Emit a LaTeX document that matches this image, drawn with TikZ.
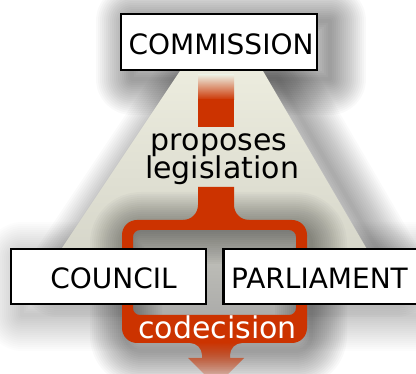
\documentclass[tikz,border=0pt]{standalone}
\usepackage{fontspec}
\setmainfont{DejaVu Sans}
\usetikzlibrary{fadings}
\definecolor{eured}{RGB}{204,51,0}
\definecolor{beige}{RGB}{236,236,222}
\definecolor{beigedark}{RGB}{212,212,200}
\definecolor{holetop}{RGB}{198,198,190}
\definecolor{holebot}{RGB}{172,172,170}
\tikzfading[name=arrowfade, top color=transparent!0, bottom color=transparent!100]
\newcommand{\softshadow}[4]{% xshift, yshift, opacity, path
  \foreach \w in {4,8,...,72} {\draw[black, opacity=#3, line width=\w pt, line join=round, xshift=#1, yshift=#2] #4;}}
\begin{document}
\begin{tikzpicture}[x=1pt,y=-1pt,
  box/.style={draw=black, line width=2.5pt, fill=white, inner sep=0pt},
  lbl/.style={anchor=base, inner sep=0pt, font=\fontsize{28}{28}\selectfont},
  biglbl/.style={anchor=base, inner sep=0pt, font=\fontsize{30}{30}\selectfont}]
\clip (0,0) rectangle (416,374);
\fill[white] (0,0) rectangle (416,374);
% shadows
\softshadow{12pt}{-10pt}{0.011}{(10,248) rectangle (207,305)}
\softshadow{12pt}{-10pt}{0.011}{(221,248) rectangle (460,305)}
\softshadow{14pt}{-6pt}{0.02}{(180,71) -- (263,71) -- (382,275) -- (44,275) -- cycle}
\softshadow{12pt}{-8pt}{0.022}{(120,13) rectangle (318,71)}
% trapezoid
\shade[top color=beige, bottom color=beigedark] (180,71) -- (263,71) -- (382,275) -- (44,275) -- cycle;
% hole of the loop
\shade[top color=holetop, bottom color=holebot, rounded corners=7pt] (133,230) rectangle (296,315);
% shadow of the loop
\softshadow{4pt}{-8pt}{0.025}{[rounded corners=15pt] (122,220) rectangle (307,343)}
% red top bar
\shade[top color=beige, bottom color=eured] (198,75) rectangle (234,100);
\fill[eured] (198,99.5) rectangle (234,127);
% stem with fillets
\fill[eured] (198,187) -- (198,205) .. controls (198,213.3) and (191.3,220) .. (183,220)
  -- (183,224) -- (249,224) -- (249,220) .. controls (240.7,220) and (234,213.3) .. (234,205)
  -- (234,187) -- cycle;
% loop
\fill[eured, even odd rule] [rounded corners=15pt] (122,220) rectangle (307,343)
  [rounded corners=7pt] (133,230) rectangle (296,315);
% arrow
\fill[eured, path fading=arrowfade] (190,342) -- (190,343) .. controls (196.6,343) and (202,348.4) .. (202,355)
  -- (202,358) -- (188,358) -- (216,386) -- (244,358) -- (230,358) -- (230,355)
  .. controls (230,348.4) and (235.4,343) .. (242,343) -- (242,342) -- cycle;
% boxes
\node[box, minimum width=196pt, minimum height=56pt] (commission) at (219,42) {};
\node[box, minimum width=195pt, minimum height=55pt] (council) at (108.5,276.5) {};
\node[box, minimum width=210pt, minimum height=55pt, anchor=west] (parliament) at (222.25,276.5) {};
% texts
\node[lbl] (commtext) at (221,55) {COMMISSION};
\node[lbl] (counciltext) at (113.5,289) {COUNCIL};
\node[lbl] (parltext) at (319.5,289) {PARLIAMENT};
\node[biglbl] (proposes) at (219,151) {proposes};
\node[biglbl] (legislation) at (222,179) {legislation};
\node[biglbl, text=white] (codecision) at (217.5,339) {codecision};
\end{tikzpicture}
\end{document}
